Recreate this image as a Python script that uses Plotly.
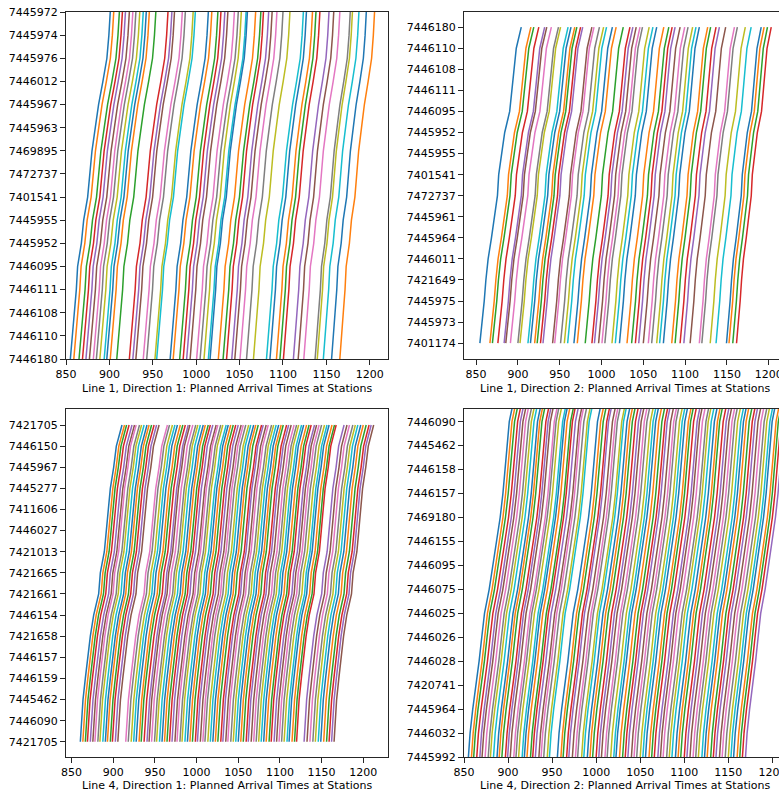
import plotly.graph_objects as go

# matplotlib "tab10" colour cycle, one colour per trip in running order
TAB10 = ["#1f77b4", "#ff7f0e", "#2ca02c", "#d62728", "#9467bd",
         "#8c564b", "#e377c2", "#7f7f7f", "#bcbd22", "#17becf"]

X_TICKS = [850, 900, 950, 1000, 1050, 1100, 1150, 1200]

# ---------------- Line 1, direction 1 ----------------
# stops in running order (first stop drawn at the bottom)
l1d1_stops = ["7446180", "7446110", "7446108", "7446111", "7446095", "7445952",
              "7445955", "7401541", "7472737", "7469895", "7445963", "7445967",
              "7446012", "7445976", "7445974", "7445972"]
# cumulative running minutes of a reference trip at each stop
l1d1_cum = [0, 1.9, 4.6, 6.9, 8.4, 12.7, 15.4, 20.0, 22.3, 25.0, 28.8, 32.6,
            37.6, 42.2, 44.5, 46.1]
# departure (minute of day) from the first stop, and end-to-end running time
l1d1_dep = [855, 859, 865, 869, 873, 877, 881.5, 885, 889, 894,
            897, 901, 908.5, 923, 927, 930.5, 939, 943, 952.5, 954.5,
            970, 973.5, 981, 985, 989, 993, 1000.5, 1004.5, 1009, 1014,
            1016, 1025.5, 1031, 1035, 1041, 1044.5, 1050.5, 1058, 1066, 1081,
            1085, 1092.5, 1096.5, 1100.5, 1112, 1117.5, 1124, 1137, 1139.5, 1146.5,
            1156, 1165.5]
l1d1_run = [46, 46, 46.5, 46, 45.5, 46, 45.5, 45.5, 46, 45,
            45.5, 45, 45, 44.5, 45, 44.5, 45, 44.5, 44, 44.5,
            44, 44.5, 44, 43.5, 44, 43.5, 43.5, 44, 43, 43.5,
            43, 43, 43.5, 42.5, 42.5, 43, 42.5, 42, 42, 42.5,
            42, 41.5, 41.5, 42, 41, 41, 41.5, 40.5, 40.5, 41,
            40, 40]

# ---------------- Line 1, direction 2 ----------------
l1d2_stops = ["7401174", "7445973", "7445975", "7421649", "7446011", "7445964",
              "7445961", "7472737", "7401541", "7445955", "7445952", "7446095",
              "7446111", "7446108", "7446110", "7446180"]
l1d2_cum = [0, 2.8, 5.2, 7.2, 9.9, 13.9, 17.9, 21.1, 22.6, 25.8, 29.8, 35.8,
            38.5, 40.9, 43.7, 49.7]
l1d2_dep = [854.5, 866.5, 869.5, 876, 883.5, 885.5, 891, 900, 902.5, 912,
            915, 920, 923, 927, 930, 941.5, 944, 951, 955.5, 959.5,
            967, 971, 980.5, 988.5, 991.5, 996.5, 1000.5, 1004, 1012.5, 1016.5,
            1021.5, 1030.5, 1036, 1040.5, 1044.5, 1050, 1056, 1060, 1066, 1069.5,
            1074, 1084, 1088, 1094, 1098.5, 1106, 1117, 1120, 1130, 1137,
            1149.5, 1152.5, 1157, 1161.5]
l1d2_run = [49.5, 49, 49.5, 49, 48.5, 49, 49, 48.5, 48.5, 48,
            48.5, 48, 47.5, 48, 47.5, 47, 47, 46.5, 47, 46.5,
            46, 46.5, 45.5, 45.5, 46, 45, 45.5, 45, 44.5, 45,
            44.5, 44, 44.5, 44, 43.5, 44, 43.5, 43.5, 43, 43.5,
            43, 43, 42.5, 43, 42.5, 42.5, 42, 42.5, 42, 42,
            41.5, 42, 41.5, 41.5]

# ---------------- Line 4, direction 1 (circular) ----------------
l4d1_stops = ["7421705", "7446090", "7445462", "7446159", "7446157", "7421658",
              "7446154", "7421661", "7421665", "7421013", "7446027", "7411606",
              "7445277", "7445967", "7446150", "7421705"]
l4d1_cum = [0, 1.2, 3.2, 6.0, 8.8, 12.0, 16.0, 22.0, 24.0, 28.8, 31.2, 34.0,
            36.0, 40.0, 43.2, 50.0]
l4d1_dep = [860.5, 863.5, 866.5, 869, 872.5, 875.5, 878, 881.5, 884, 887.5,
            890.5, 893, 896.5, 899, 902.5, 905.5, 915, 918, 921.5, 924.5,
            927.5, 931, 933.5, 937, 940.5, 943, 946, 949.5, 952, 955.5,
            958.5, 961.5, 964.5, 967.5, 970.5, 974, 976.5, 980, 982.5, 986,
            989, 992, 995, 998.5, 1001, 1004.5, 1007.5, 1010, 1013.5, 1016.5,
            1019.5, 1022.5, 1025.5, 1029, 1031.5, 1035, 1037.5, 1041, 1044, 1047,
            1050, 1053, 1056, 1059.5, 1062, 1065.5, 1068.5, 1071.5, 1074.5, 1077.5,
            1080.5, 1083.5, 1087, 1089.5, 1093, 1096, 1099, 1102, 1105, 1108.5,
            1111, 1114.5, 1117.5, 1120, 1129, 1132.5, 1136, 1139.5, 1142.5, 1146,
            1149, 1152.5, 1156, 1159, 1162, 1165]
l4d1_run = [50, 50, 49.5, 50, 50, 50, 49.5, 50, 50, 49.5,
            50, 50, 49.5, 50, 49.5, 49.5, 50, 49.5, 49.5, 49.5,
            49.5, 49.5, 50, 49.5, 49.5, 49, 49.5, 49.5, 49.5, 49,
            49.5, 49, 49.5, 49, 49, 49.5, 49, 49, 49, 49.5,
            49, 49, 49, 48.5, 49, 49, 48.5, 49, 49, 48.5,
            49, 48.5, 48.5, 49, 48.5, 48.5, 48.5, 49, 48.5, 48.5,
            48.5, 48.5, 48, 48.5, 48.5, 48, 48.5, 48.5, 48, 48.5,
            48, 48.5, 48, 48, 48.5, 48, 48, 48, 48.5, 48,
            48, 48, 48, 47.5, 48, 48, 47.5, 48, 48, 47.5,
            48, 47.5, 47.5, 48, 47.5, 47.5]

# ---------------- Line 4, direction 2 (circular) ----------------
l4d2_stops = ["7445992", "7446032", "7445964", "7420741", "7446028", "7446026",
              "7446025", "7446075", "7446095", "7446155", "7469180", "7446157",
              "7446158", "7445462", "7446090", "7421705"]
l4d2_cum = [0, 1.9, 4.9, 8.7, 12.1, 15.1, 18.2, 23.5, 27.6, 32.2, 35.9, 39.0,
            41.6, 43.5, 46.2, 51.8]
l4d2_dep = [855, 858.5, 861, 864.5, 868, 870.5, 874, 877.5, 880, 883.5,
            887.5, 890, 893, 897, 899.5, 902.5, 906.5, 909, 912, 916,
            918.5, 921.5, 925.5, 928, 931, 935, 937.5, 940.5, 944.5, 947,
            956, 960, 962.5, 966.5, 969, 973, 976.5, 979, 983.5, 986,
            990, 993, 996, 1000, 1003, 1006, 1010, 1012.5, 1016.5, 1020,
            1022.5, 1026.5, 1030, 1033, 1036, 1040, 1043, 1046, 1050, 1053,
            1056, 1060, 1063, 1066, 1070, 1073, 1076, 1080, 1083, 1086,
            1090, 1093, 1096, 1100, 1103, 1106.5, 1110, 1113, 1116, 1120,
            1123, 1126, 1130, 1133, 1136, 1140, 1143, 1146.5, 1150, 1153,
            1156, 1160, 1163, 1166, 1169.5]
l4d2_run = [52, 51.5, 52, 52, 51.5, 52, 51.5, 51.5, 52, 51.5,
            51.5, 51.5, 51, 51.5, 51.5, 51, 51.5, 51, 51, 51.5,
            51, 51, 51, 50.5, 51, 51, 50.5, 51, 51, 50.5,
            51, 50.5, 51, 51, 50.5, 51, 50.5, 50.5, 51, 50.5,
            50.5, 50.5, 50.5, 50, 50.5, 50.5, 50, 50.5, 50.5, 50,
            50.5, 50, 50, 50.5, 50, 50, 50.5, 50, 50, 50,
            50, 50, 49.5, 50, 50, 49.5, 50, 50, 49.5, 50,
            49.5, 50, 49.5, 49.5, 50, 49.5, 49.5, 49.5, 50, 49.5,
            49.5, 49.5, 49, 49.5, 49.5, 49, 49.5, 49.5, 49, 49.5,
            49, 49.5, 49, 49, 49]

W, H = 779, 796
FONT = dict(family="DejaVu Sans", size=11, color="#000000")
SPINE = "#262626"

panels = [
    dict(stops=l1d1_stops, cum=l1d1_cum, dep=l1d1_dep, run=l1d1_run,
         px=(66, 388), py=(12, 359), xrange=[850, 1221], yrange=[0, 15], box=True,
         title="Line 1, Direction 1: Planned Arrival Times at Stations", tx=227, ty=388),
    dict(stops=l1d2_stops, cum=l1d2_cum, dep=l1d2_dep, run=l1d2_run,
         px=(464, 779), py=(12, 359), xrange=[835.5, 1212.3], yrange=[-0.75, 15.72], box=False,
         title="Line 1, Direction 2: Planned Arrival Times at Stations", tx=625, ty=388),
    dict(stops=l4d1_stops, cum=l4d1_cum, dep=l4d1_dep, run=l4d1_run,
         px=(66, 388), py=(409, 757), xrange=[843.3, 1229.7], yrange=[-0.72, 15.76], box=True,
         title="Line 4, Direction 1: Planned Arrival Times at Stations", tx=227, ty=785),
    dict(stops=l4d2_stops, cum=l4d2_cum, dep=l4d2_dep, run=l4d2_run,
         px=(464, 779), py=(409, 757), xrange=[850, 1207.5], yrange=[0, 14.53], box=False,
         title="Line 4, Direction 2: Planned Arrival Times at Stations", tx=625, ty=785),
]

fig = go.Figure()
layout = {}
annotations = []
for i, p in enumerate(panels, 1):
    sfx = "" if i == 1 else str(i)
    stop_idx = list(range(len(p["stops"])))
    for j, (d, r) in enumerate(zip(p["dep"], p["run"])):
        k = r / p["cum"][-1]
        fig.add_trace(go.Scatter(
            x=[d + c * k for c in p["cum"]], y=stop_idx,
            mode="lines", line=dict(color=TAB10[j % 10], width=1.5),
            xaxis="x" + sfx, yaxis="y" + sfx,
            hoverinfo="skip", showlegend=False))
    x0, x1 = p["px"]
    y0, y1 = p["py"]
    common = dict(ticks="outside", ticklen=5, tickwidth=1, tickcolor=SPINE,
                  showline=True, linecolor=SPINE, linewidth=1,
                  showgrid=False, zeroline=False, tickfont=FONT, automargin=False)
    layout["xaxis" + sfx] = dict(domain=[x0 / W, min(x1 / W, 1.0)], range=p["xrange"],
                                 anchor="y" + sfx, tickvals=X_TICKS, mirror=True,
                                 ticklabeloverflow="allow", **common)
    layout["yaxis" + sfx] = dict(domain=[1 - y1 / H, 1 - y0 / H], range=p["yrange"],
                                 anchor="x" + sfx, tickvals=stop_idx, ticktext=p["stops"],
                                 mirror=p["box"], **common)
    annotations.append(dict(text=p["title"], x=p["tx"] / W, y=1 - p["ty"] / H,
                            xref="paper", yref="paper", xanchor="center", yanchor="middle",
                            showarrow=False, font=FONT))

fig.update_layout(width=W, height=H, margin=dict(l=0, r=0, t=0, b=0),
                  paper_bgcolor="white", plot_bgcolor="white",
                  font=FONT, annotations=annotations, **layout)

fig.write_html("out.html")
